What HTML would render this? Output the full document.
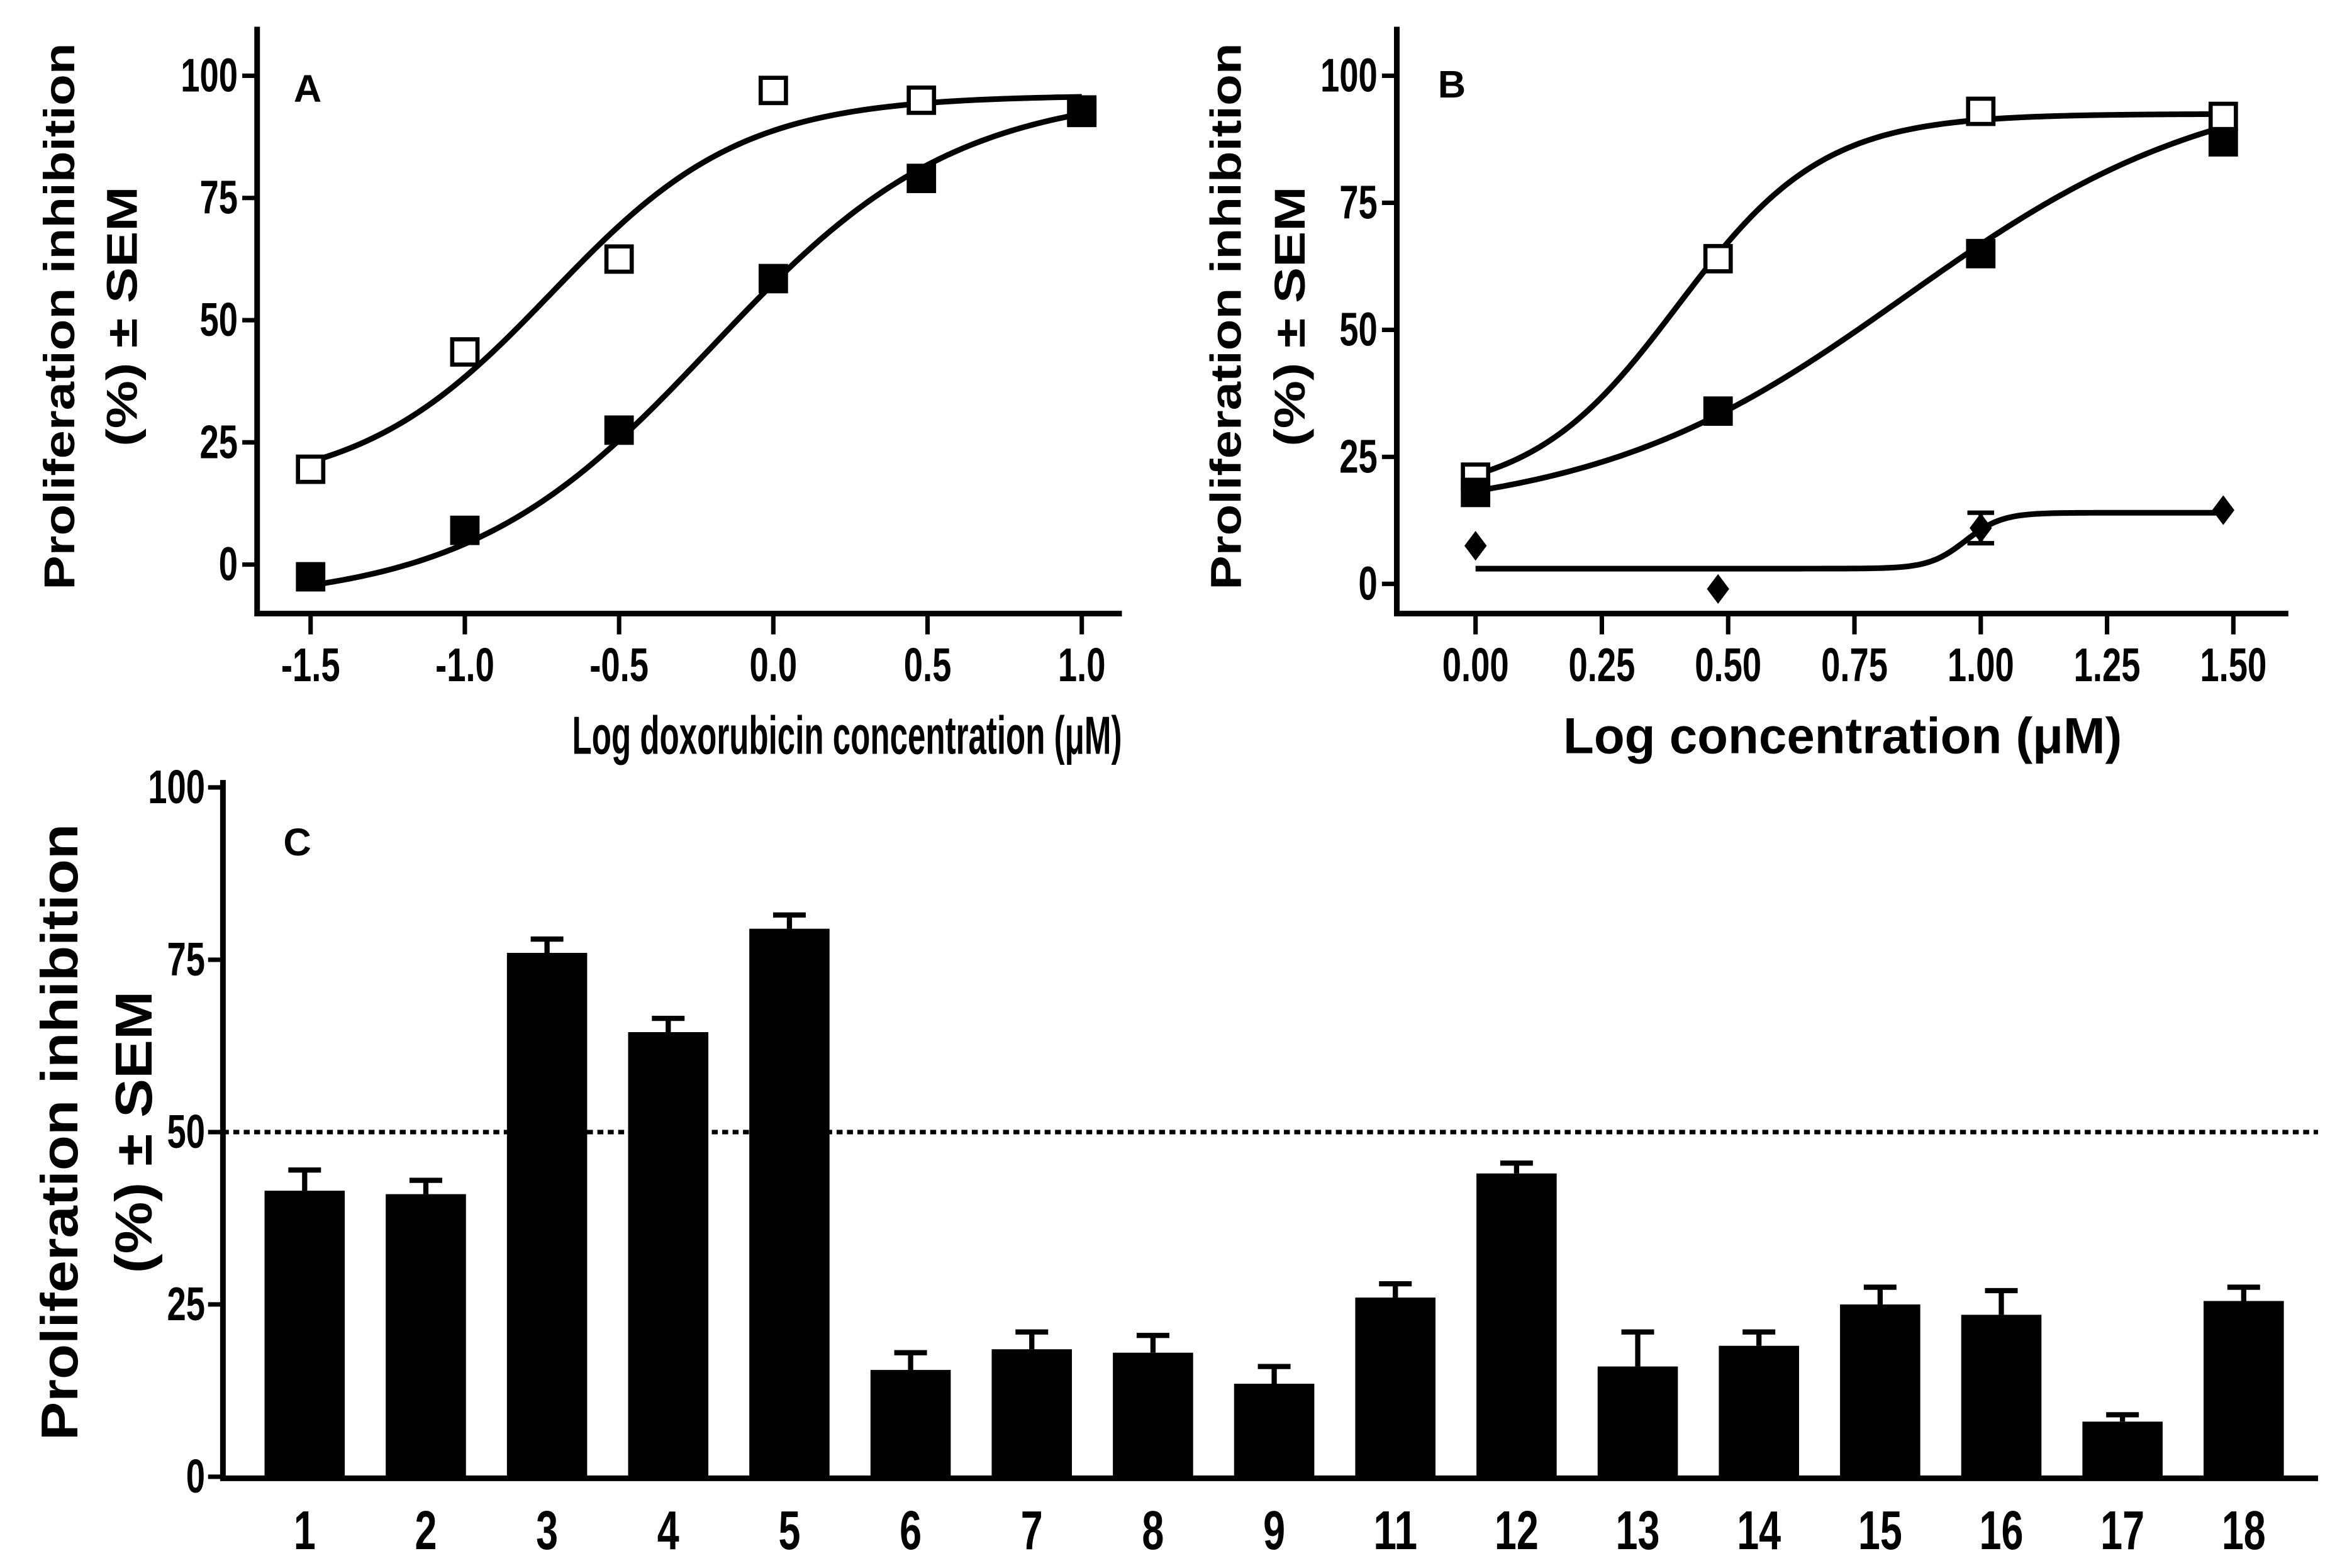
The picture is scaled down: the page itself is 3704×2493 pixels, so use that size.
<!DOCTYPE html>
<html><head><meta charset="utf-8"><style>
html,body{margin:0;padding:0;background:#fff;}
svg{display:block;}
text{font-family:"Liberation Sans",sans-serif;font-weight:bold;fill:#000;}
</style></head><body>
<svg id="fig" width="3704" height="2493" viewBox="0 0 1568 1055.4" xmlns="http://www.w3.org/2000/svg">
<g id="pa"></g>
<g id="pb"></g>
<g id="pc"></g>
</svg>
<script>
// Panel A data
const aOpenX=[-1.5,-1.0,-0.5,0.0,0.48,1.0];
const aOpenY=[19.5,43.5,62.5,97,95,93];
const aFillX=[-1.5,-1.0,-0.5,0.0,0.48,1.0];
const aFillY=[-2.5,7,27.5,58.5,79,92.5];
const aOpenFit=[15,96,-0.72,1.4];   // bottom, top, logEC50, hill
const aFillFit=[-8,97,-0.2,1.1];
const aXTicks=[-1.5,-1.0,-0.5,0.0,0.5,1.0];
const aXLabels=["-1.5","-1.0","-0.5","0.0","0.5","1.0"];
const aYTicks=[0,25,50,75,100];
// Panel B data
const bOpenX=[0,0.48,1.0,1.48];
const bOpenY=[21,64,93,92];
const bFillX=[0,0.48,1.0,1.48];
const bFillY=[18,34,65,87];
const bDiaX=[0,0.48,1.0,1.48];
const bDiaY=[7.5,-1,11,14.5];
const bDiaErr=[0,0,3,0];
const bOpenFit=[17,92.5,0.4,3];
const bFillFit=[13,100,0.85,1.4];
const bDiaFit=[3,14,0.97,12];
const bXTicks=[0,0.25,0.5,0.75,1.0,1.25,1.5];
const bXLabels=["0.00","0.25","0.50","0.75","1.00","1.25","1.50"];
const bYTicks=[0,25,50,75,100];
// Panel C data
const cCats=["1","2","3","4","5","6","7","8","9","11","12","13","14","15","16","17","18"];
const cVals=[41.5,41,76,64.5,79.5,15.5,18.5,18,13.5,26,44,16,19,25,23.5,8,25.5];
const cErr=[3,2,2,2,2,2.5,2.5,2.5,2.5,2,1.5,5,2,2.5,3.5,1,2];
const cYTicks=[0,25,50,75,100];
const cThreshold=[50];

const NS="http://www.w3.org/2000/svg";
function mk(p,tag,at){const e=document.createElementNS(NS,tag);for(const k in at)e.setAttribute(k,at[k]);p.appendChild(e);return e;}
function tw(s,fs){let w=0;for(const c of s){w+=(c=='.'?0.278:c=='-'?0.333:0.556);}return w*fs*0.72;}
function txt(p,x,y,s,fs,anchor,name,cond){const t=mk(p,'text',{x:x,y:y,'font-size':fs,'text-anchor':anchor,'dominant-baseline':'central'});t.textContent=s;
 
 
 if(cond){t.setAttribute('textLength',tw(s,fs));t.setAttribute('lengthAdjust','spacingAndGlyphs');}return t;}
function fitTitle(p,cx,y,s,fs,width,name){
 const t=mk(p,'text',{x:0,y:0,'font-size':fs,'text-anchor':'middle','dominant-baseline':'central'});t.textContent=s;
 
 
 const w=t.getComputedTextLength()||width;
 t.setAttribute('transform',`translate(${cx},${y}) scale(${width/w},1)`);
 return t;}
function fit(p,x){return p[0]+(p[1]-p[0])/(1+Math.pow(10,(p[2]-x)*p[3]));}

function axes(g,x0,x1,y0,y1,name){
 const ax=mk(g,'path',{d:`M${x0} ${y0}V${y1}H${x1}`,fill:'none',stroke:'#000','stroke-width':3.8});
 
 
}
function curve(g,F,X,Y,xa,xb,name){let d='';for(let i=0;i<=200;i++){const x=xa+(xb-xa)*i/200;d+=(i?'L':'M')+X(x).toFixed(2)+' '+Y(fit(F,x)).toFixed(2);}
 const c=mk(g,'path',{d:d,fill:'none',stroke:'#000','stroke-width':3.8});
 
 }
function sq(g,x,y,filled,name){const s=mk(g,'rect',{x:x-8.5,y:y-8.5,width:17,height:17,fill:filled?'#000':'#fff',stroke:'#000','stroke-width':2.8});
 
 }
function dia(g,x,y,name){const s=mk(g,'path',{d:`M${x} ${y-10}L${x+7.5} ${y}L${x} ${y+10}L${x-7.5} ${y}Z`,fill:'#000'});
 
 }
function ytitle(g,x1,x2,cy,fs,l1,l2,len1,len2,name){
 const t1=mk(g,'text',{x:0,y:0,'font-size':fs,'text-anchor':'middle','dominant-baseline':'central',transform:`translate(${x1},${cy}) rotate(-90)`,textLength:len1,lengthAdjust:'spacingAndGlyphs'});t1.textContent=l1;
 
 
 const t2=mk(g,'text',{x:0,y:0,'font-size':fs,'text-anchor':'middle','dominant-baseline':'central',transform:`translate(${x2},${cy}) rotate(-90)`,textLength:len2,lengthAdjust:'spacingAndGlyphs'});t2.textContent=l2;
 
 }

// ---- Panel A
(function(){const g=document.getElementById('pa');
 const X=v=>209+(v+1.5)*207.6, Y=v=>380-v*3.29;
 axes(g,173,755,18,413,'panel-a');
 aYTicks.forEach(v=>{mk(g,'line',{x1:163,x2:173,y1:Y(v),y2:Y(v),stroke:'#000','stroke-width':3});txt(g,160,Y(v),String(v),32,'end','a-y-tick-label',true);});
 aXTicks.forEach((v,i)=>{mk(g,'line',{x1:X(v),x2:X(v),y1:413,y2:427,stroke:'#000','stroke-width':3});txt(g,X(v),448,aXLabels[i],32,'middle','a-x-tick-label',true);});
 fitTitle(g,570,495,"Log doxorubicin concentration  (μM)",36,370,'a-x-axis-title');
 txt(g,207,60,"A",26,'middle','a-panel-label');
 ytitle(g,40,82,213,29,"Proliferation inhibition","(%) ± SEM",368,175,'a-y-axis-title');
 curve(g,aOpenFit,X,Y,-1.5,1.0,'a-open-fit-curve');
 curve(g,aFillFit,X,Y,-1.5,1.0,'a-filled-fit-curve');
 aOpenX.forEach((x,i)=>sq(g,X(x),Y(aOpenY[i]),false,'a-open-point'));
 aFillX.forEach((x,i)=>sq(g,X(x),Y(aFillY[i]),true,'a-filled-point'));
})();
// ---- Panel B
(function(){const g=document.getElementById('pb');
 const X=v=>993+v*340, Y=v=>393-v*3.42;
 axes(g,940,1540,18,413,'panel-b');
 bYTicks.forEach(v=>{mk(g,'line',{x1:930,x2:940,y1:Y(v),y2:Y(v),stroke:'#000','stroke-width':3});txt(g,927,Y(v),String(v),32,'end','b-y-tick-label',true);});
 bXTicks.forEach((v,i)=>{mk(g,'line',{x1:X(v),x2:X(v),y1:413,y2:427,stroke:'#000','stroke-width':3});txt(g,X(v),448,bXLabels[i],32,'middle','b-x-tick-label',true);});
 fitTitle(g,1240,495,"Log concentration  (μM)",34,376,'b-x-axis-title');
 txt(g,977,57,"B",26,'middle','b-panel-label');
 ytitle(g,825,868,213,29,"Proliferation inhibition","(%) ± SEM",368,175,'b-y-axis-title');
 curve(g,bOpenFit,X,Y,0,1.48,'b-open-fit-curve');
 curve(g,bFillFit,X,Y,0,1.48,'b-filled-fit-curve');
 curve(g,bDiaFit,X,Y,0,1.48,'b-diamond-fit-curve');
 bDiaX.forEach((x,i)=>{if(bDiaErr[i]>0){const e=mk(g,'path',{d:`M${X(x)-9} ${Y(bDiaY[i]+bDiaErr[i])}H${X(x)+9}M${X(x)} ${Y(bDiaY[i]+bDiaErr[i])}V${Y(bDiaY[i]-bDiaErr[i])}M${X(x)-9} ${Y(bDiaY[i]-bDiaErr[i])}H${X(x)+9}`,stroke:'#000','stroke-width':3,fill:'none'});
 
 }});
 bOpenX.forEach((x,i)=>sq(g,X(x),Y(bOpenY[i]),false,'b-open-point'));
 bFillX.forEach((x,i)=>sq(g,X(x),Y(bFillY[i]),true,'b-filled-point'));
 bDiaX.forEach((x,i)=>dia(g,X(x),Y(bDiaY[i]),'b-diamond-point'));
})();
// ---- Panel C
(function(){const g=document.getElementById('pc');
 const Y=v=>994-v*4.64, X=i=>205+i*81.56, bw=54;
 axes(g,150,1560,525,995,'panel-c');
 cYTicks.forEach(v=>{mk(g,'line',{x1:140,x2:150,y1:Y(v),y2:Y(v),stroke:'#000','stroke-width':3});txt(g,138,Y(v),String(v),32,'end','c-y-tick-label',true);});
 txt(g,200,567,"C",26,'middle','c-panel-label');
 ytitle(g,40,90,762,35,"Proliferation inhibition","(%) ± SEM",415,190,'c-y-axis-title');
 cCats.forEach((c,i)=>{const x=X(i);
  const b=mk(g,'rect',{x:x-bw/2,y:Y(cVals[i]),width:bw,height:Y(0)-Y(cVals[i]),fill:'#000'});
  
  
  const e=mk(g,'path',{d:`M${x} ${Y(cVals[i])}V${Y(cVals[i]+cErr[i])}M${x-11} ${Y(cVals[i]+cErr[i])}H${x+11}`,stroke:'#000','stroke-width':3.5,fill:'none'});
  
  
  txt(g,x,1030,c,37,'middle','c-x-tick-label',true);});
 const d=mk(g,'line',{x1:150,x2:1560,y1:Y(cThreshold[0]),y2:Y(cThreshold[0]),stroke:'#000','stroke-width':3,'stroke-dasharray':'4 3'});
 
 
})();
</script>
</body></html>
